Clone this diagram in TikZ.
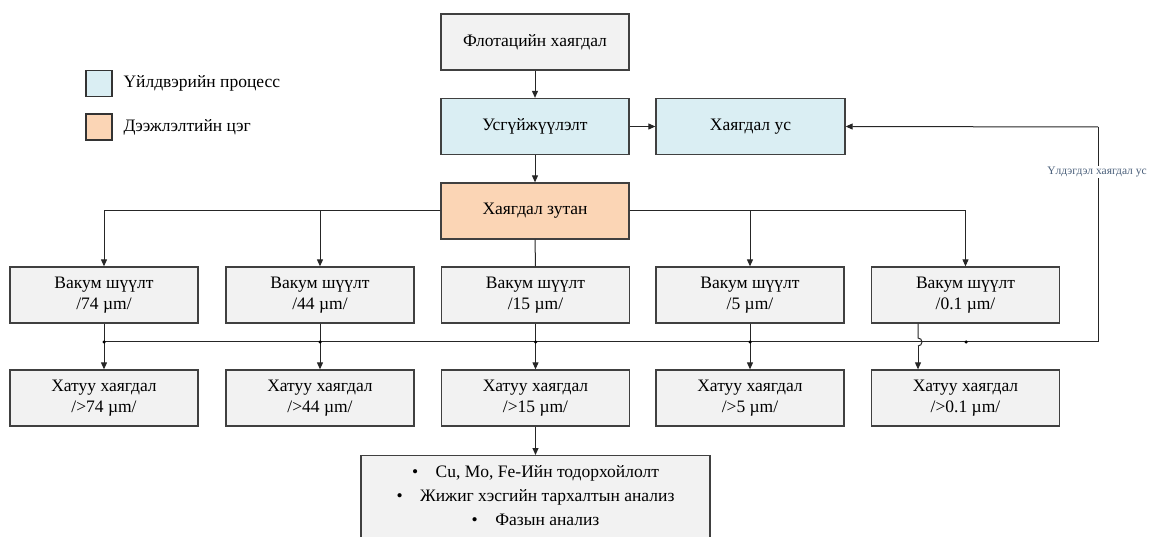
\documentclass[tikz,border=0pt]{standalone}
\usepackage{fontspec}
\setmainfont{Liberation Serif}
\usetikzlibrary{arrows.meta,calc}
\definecolor{boxgray}{HTML}{F2F2F2}
\definecolor{boxblue}{HTML}{DAEEF3}
\definecolor{boxpeach}{HTML}{FBD5B5}
\definecolor{edgegray}{HTML}{404040}
\definecolor{labelblue}{HTML}{4A5F7A}
\tikzset{
  procbox/.style={draw=edgegray, line width=1.3pt, rectangle, minimum width=188pt, minimum height=56pt, inner sep=2pt, align=center, font=\rmfamily\fontsize{17.5}{21}\selectfont},
  graybox/.style={procbox, fill=boxgray},
  bluebox/.style={procbox, fill=boxblue},
  peachbox/.style={procbox, fill=boxpeach},
  conn/.style={draw=black!85, line width=1pt},
  arr/.style={conn, -{Triangle[length=7pt,width=6pt]}},
  jdot/.style={circle, fill=black, inner sep=0pt, minimum size=3.5pt},
  legbox/.style={draw=black!80, line width=1.3pt, minimum width=26pt, minimum height=26pt},
  legtext/.style={anchor=west, font=\rmfamily\fontsize{17.5}{20}\selectfont},
}
\begin{document}
\begin{tikzpicture}[x=1pt,y=-1pt]
\useasboundingbox (0,0) rectangle (1149,537);
% legend
\node[legbox, fill=boxblue] (lg1) at (99,83.5) {};
\node[legtext] (lt1) at (120,83.5) {Үйлдвэрийн процесс};
\node[legbox, fill=boxpeach] (lg2) at (99,127) {};
\node[legtext] (lt2) at (120,127) {Дээжлэлтийн цэг};
% top nodes
\node[graybox] (flot) at (535,42) {Флотацийн хаягдал};
\node[bluebox] (usg) at (535,126.5) {Усгүйжүүлэлт};
\node[bluebox, minimum width=189pt] (hus) at (750.5,126.5) {Хаягдал ус};
\node[peachbox] (zut) at (535,211) {Хаягдал зутан};
% vacuum filters
\node[graybox] (vac1) at (104,295) {Вакум шүүлт\\/74 µm/};
\node[graybox] (vac2) at (320,295) {Вакум шүүлт\\/44 µm/};
\node[graybox] (vac3) at (535.5,295) {Вакум шүүлт\\/15 µm/};
\node[graybox] (vac4) at (750,295) {Вакум шүүлт\\/5 µm/};
\node[graybox] (vac5) at (965.5,295) {Вакум шүүлт\\/0.1 µm/};
% solids
\node[graybox] (hat1) at (104,398) {Хатуу хаягдал\\/>74 µm/};
\node[graybox] (hat2) at (320,398) {Хатуу хаягдал\\/>44 µm/};
\node[graybox] (hat3) at (535.5,398) {Хатуу хаягдал\\/>15 µm/};
\node[graybox] (hat4) at (750,398) {Хатуу хаягдал\\/>5 µm/};
\node[graybox] (hat5) at (965.5,398) {Хатуу хаягдал\\/>0.1 µm/};
% analysis
\node[graybox, minimum width=349pt, minimum height=96pt, anchor=north] (anal) at (535.5,455) {};
\node[font=\rmfamily\fontsize{17.5}{24}\selectfont, align=center, anchor=north] (analtext) at (535.5,462)
  {•\quad Cu, Mo, Fe-Ийн тодорхойлолт\\•\quad Жижиг хэсгийн тархалтын анализ\\•\quad Фазын анализ};
% top arrows
\draw[arr] (flot) -- (usg);
\draw[arr] (usg) -- (zut);
\draw[arr] (usg) -- (hus);
% distribution
\draw[arr] (zut.west) -| (vac1.north);
\draw[arr] (zut.west) -| (vac2.north);
\draw[conn] (zut.south) -- (vac3.north);
\draw[arr] (zut.east) -| (vac4.north);
\draw[arr] (zut.east) -| (vac5.north);
% collection line
\coordinate (c1) at (104,342);
\coordinate (c5) at (966,342);
\coordinate (cr) at (1098,342);
\coordinate (ru) at (1098,127);
\draw[conn] (c1) -- (cr) -- (ru);
\draw[arr] (ru) -- (hus.east);
\node[fill=white, inner sep=1pt, text=labelblue, font=\rmfamily\fontsize{11.5}{13}\selectfont] (lbl) at (1097,172) {Үлдэгдэл хаягдал ус};
% drops
\foreach \i in {1,2,3,4}{
  \draw[arr] (vac\i.south) -- (hat\i.north);
  \node[jdot] (d\i) at (vac\i.south |- c1) {};
}
\node[jdot] (d5) at (c5) {};
\coordinate (v5a) at ($(vac5.south)+(-47.5,0)$);
\coordinate (v5b) at ($(hat5.north)+(-47.5,0)$);
\draw[conn] (v5a) -- ($(v5a |- c1)+(0,-4)$) arc (-90:90:4);
\draw[arr] ($(v5a |- c1)+(0,4)$) -- (v5b);
\draw[arr] (hat3.south) -- (anal.north);
\end{tikzpicture}
\end{document}
